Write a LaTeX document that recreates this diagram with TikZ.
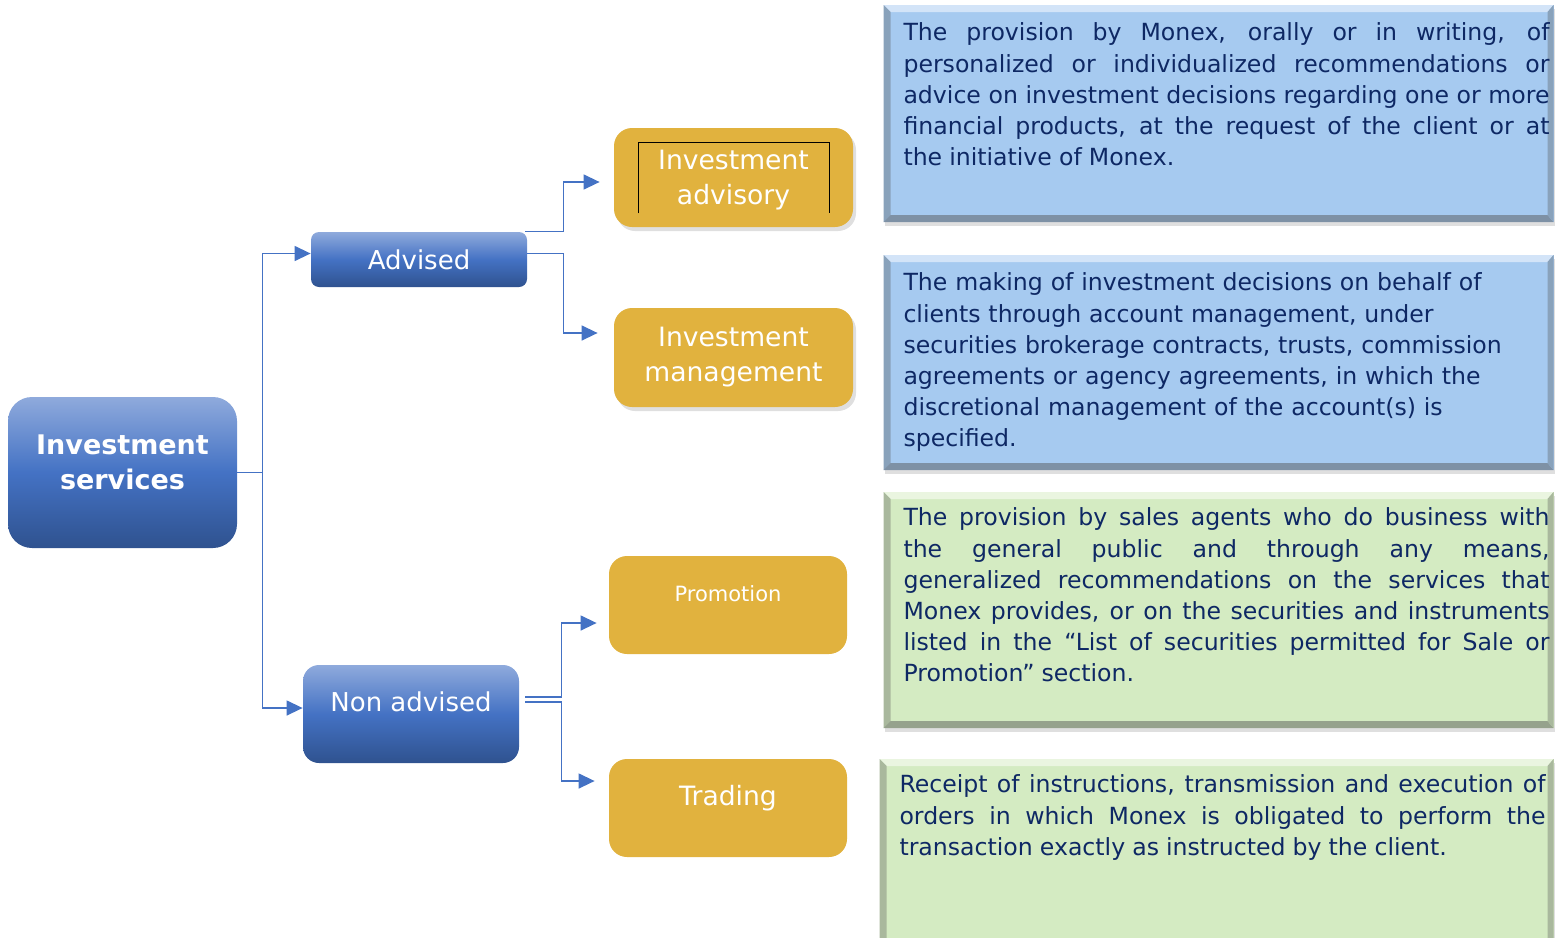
\documentclass[tikz,border=0pt]{standalone}
\usepackage{fontspec}
\setmainfont{DejaVu Sans}
\usetikzlibrary{arrows.meta,calc,positioning,shadows}
\definecolor{linkblue}{RGB}{68,114,196}
\definecolor{boxtop}{RGB}{143,170,220}
\definecolor{boxmid}{RGB}{68,114,196}
\definecolor{boxbot}{RGB}{47,82,143}
\definecolor{gold}{RGB}{225,178,62}
\definecolor{descblue}{RGB}{166,202,240}
\definecolor{descgreen}{RGB}{212,235,194}
\definecolor{desctext}{RGB}{14,40,100}
\tikzset{
  bevel/.style n args={3}{path picture={
    \coordinate (bnw) at (path picture bounding box.north west);
    \coordinate (bne) at (path picture bounding box.north east);
    \coordinate (bsw) at (path picture bounding box.south west);
    \coordinate (bse) at (path picture bounding box.south east);
    \fill[#1] (bnw) -- (bne) -- ([shift={(-3pt,-3.5pt)}]bne) -- ([shift={(3.5pt,-3.5pt)}]bnw) -- cycle;
    \fill[#2] (bnw) -- (bsw) -- ([shift={(3.5pt,3.5pt)}]bsw) -- ([shift={(3.5pt,-3.5pt)}]bnw) -- cycle;
    \fill[#3] (bsw) -- (bse) -- ([shift={(-3pt,3.5pt)}]bse) -- ([shift={(3.5pt,3.5pt)}]bsw) -- cycle;
    \fill[#2] (bse) -- (bne) -- ([shift={(-3pt,-3.5pt)}]bne) -- ([shift={(-3pt,3.5pt)}]bse) -- cycle;
  }},
}

\begin{document}
\begin{tikzpicture}[x=0.5pt,y=-0.5pt,>={Triangle[length=8pt,width=7.5pt]},
  link/.style={draw=linkblue,line width=0.7pt},
  bluebox/.style={rounded corners=#1,top color=boxtop,bottom color=boxbot,middle color=boxmid,
    text=white,font=\fontsize{13}{17.5}\selectfont,align=center,inner sep=0pt},
  goldbox/.style={rounded corners=9pt,fill=gold,text=white,minimum width=119.5pt,minimum height=49.5pt,
    font=\fontsize{13.3}{17.5}\selectfont,align=center,inner sep=0pt},
  lift/.style={text height=9.7pt,text depth=12.5pt},
  shade/.style={drop shadow={shadow xshift=1.5pt,shadow yshift=-2pt,opacity=0.25}},
  descbox/.style={minimum width=#1,inner sep=0pt,drop shadow={shadow xshift=0.5pt,shadow yshift=-2pt,opacity=0.25}},
  blueback/.style={fill=descblue,bevel={descblue!50!white}{descblue!75!black!90}{descblue!62!black!85}},
  greenback/.style={fill=descgreen,bevel={descgreen!50!white}{descgreen!75!black!90}{descgreen!62!black!85}},
  desc/.style={text=desctext,text width=323pt,inner sep=0pt,anchor=north west,
    font={\fontsize{11.8}{15.6}\selectfont\spaceskip=.3em plus .3em minus .1em\hyphenpenalty=10000}}]
\useasboundingbox (0,0) rectangle (1556,937);

% left side
\node[bluebox=12pt,minimum width=114.5pt,minimum height=75.5pt,text depth=10pt,font=\bfseries\fontsize{13.5}{17.5}\selectfont] (svc) at (122.5,472.5) {Investment\\services};
\node[bluebox=4pt,minimum width=108pt,minimum height=27.5pt] (adv) at (419,259.5) {Advised};
\node[bluebox=8pt,minimum width=108pt,minimum height=49pt,lift] (nadv) at (411,714) {Non advised};

% services
\node[goldbox,shade,text depth=0pt] (iadv) at (733.5,177.5) {Investment\\advisory};
\draw[line width=0.6pt] ([shift={(12.5pt,7pt)}]iadv.south west) |- ([shift={(-12pt,-7.5pt)}]iadv.north east) -- ([shift={(-12pt,7pt)}]iadv.south east);
\node[goldbox,shade] (imgt) at (733.5,357.5) {Investment\\management};
\node[goldbox,minimum width=119pt,minimum height=49pt,font=\fontsize{10.5}{12}\selectfont,text height=7.7pt,text depth=11pt] (prom) at (728,605) {Promotion};
\node[goldbox,minimum width=119pt,minimum height=49pt,lift] (trad) at (728,808) {Trading};

% connectors
\draw[link,->] (svc.east) -- ++(25,0) coordinate (fork) |- ([yshift=3pt]adv.west);
\draw[link,->] (fork) |- ([yshift=3pt]nadv.west);
\draw[link,->] ([xshift=-1pt]adv.north east) -- ++(38,0) |- ([xshift=-7pt,yshift=-2.25pt]iadv.west);
\draw[link,->] ([yshift=3pt]adv.east) -- ++(36,0) |- ([xshift=-8pt,yshift=12.25pt]imgt.west);
\draw[link,->] ([xshift=3pt,yshift=8.5pt]nadv.east) -- ++(36,0) |- ([xshift=-6pt,yshift=-9pt]prom.west);
\draw[link,->] ([xshift=3pt,yshift=6pt]nadv.east) -- ++(36,0) |- ([xshift=-7pt,yshift=13.5pt]trad.west);

% descriptions
\node[descbox=335pt,minimum height=108.5pt,blueback] (d1) at (1218.5,113.5) {};
\node[desc,align=justify] (t1) at ($(d1.north west)+(20,18)$) {The provision by Monex, orally or in writing, of\linebreak personalized or individualized recommendations or\linebreak advice on investment decisions regarding one or more\linebreak financial products, at the request of the client or at\linebreak the initiative of Monex.};
\node[descbox=335pt,minimum height=107.5pt,blueback] (d2) at (1218.5,362.5) {};
\node[desc,align=left,text width=330pt] (t2) at ($(d2.north west)+(20,18)$) {The making of investment decisions on behalf of\\clients through account management, under\\securities brokerage contracts, trusts, commission\\agreements or agency agreements, in which the\\discretional management of the account(s) is\\specified.};
\node[descbox=335pt,minimum height=118pt,greenback] (d3) at (1218.5,610) {};
\node[desc,align=justify] (t3) at ($(d3.north west)+(20,16)$) {The provision by sales agents who do business with\linebreak the general public and through any means,\linebreak generalized recommendations on the services that\linebreak Monex provides, or on the securities and instruments\linebreak listed in the “List of securities permitted for Sale or\linebreak Promotion” section.};
\node[descbox=337pt,minimum height=93pt,greenback] (d4) at (1216.5,852) {};
\node[desc,align=justify] (t4) at ($(d4.north west)+(20,16)$) {Receipt of instructions, transmission and execution of\linebreak orders in which Monex is obligated to perform the\linebreak transaction exactly as instructed by the client.};
\end{tikzpicture}
\end{document}
